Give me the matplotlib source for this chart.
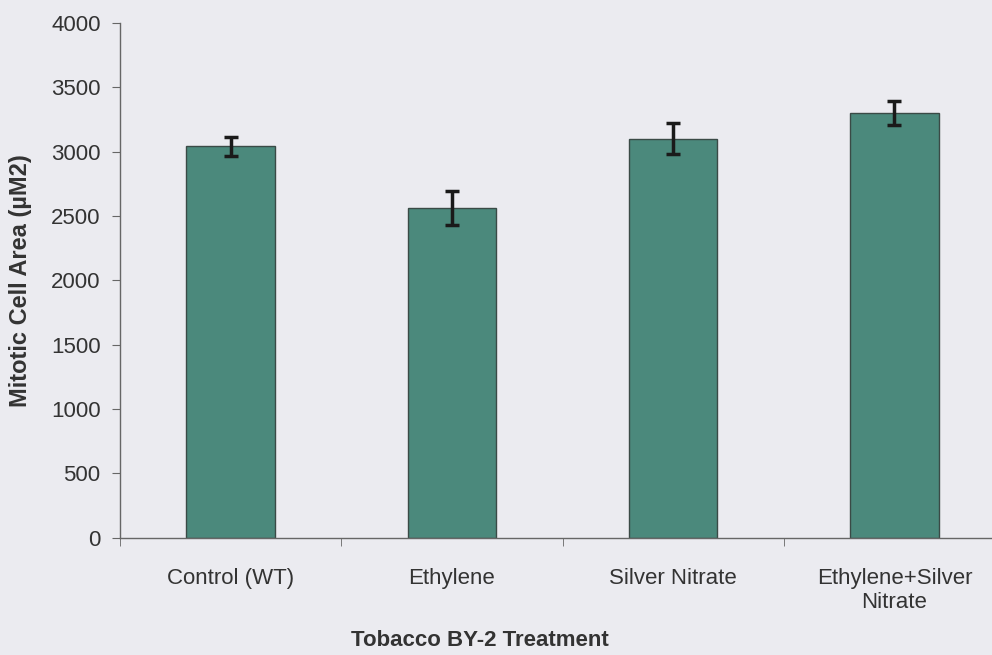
import matplotlib.pyplot as plt
import numpy as np

treatments = ['Control (WT)', 'Ethylene', 'Silver Nitrate', 'Ethylene+Silver\nNitrate']
cell_area = [3040, 2560, 3100, 3300]
cell_area_err = [75, 130, 120, 90]
y_ticks = [0, 500, 1000, 1500, 2000, 2500, 3000, 3500, 4000]

plt.rcParams['font.family'] = ['Liberation Sans', 'DejaVu Sans']

bg = '#ebebf0'
fig = plt.figure(figsize=(9.92, 6.55), dpi=100, facecolor=bg)
ax = fig.add_axes([120 / 992, 1 - 537.5 / 655, 885 / 992, (537.5 - 23) / 655])
ax.set_facecolor(bg)

x = np.arange(len(treatments))
ax.bar(x, cell_area, width=0.4, color='#4b897c', edgecolor='#3a4a46', linewidth=1.0)
ax.errorbar(x, cell_area, yerr=cell_area_err, fmt='none', ecolor='#1a1a1a',
            elinewidth=2.5, capsize=5, capthick=2.5)

ax.set_xlim(-0.5, len(treatments) - 0.5)
ax.set_ylim(0, 4000)
ax.set_yticks(y_ticks)
ax.set_yticklabels([str(v) for v in y_ticks], fontsize=16, color='#333333')
ax.set_xticks(x)
ax.set_xticklabels(treatments, fontsize=16, color='#333333')
ax.set_xticks(np.arange(len(treatments) + 1) - 0.5, minor=True)
ax.tick_params(axis='x', which='major', length=0, pad=22)
ax.tick_params(axis='x', which='minor', length=6, direction='out', color='#666666')
ax.tick_params(axis='y', length=6, direction='out', color='#666666', pad=8)

for s in ['top', 'right']:
    ax.spines[s].set_visible(False)
for s in ['left', 'bottom']:
    ax.spines[s].set_color('#666666')
    ax.spines[s].set_linewidth(1.0)

fig.text(21 / 992, 1 - 281 / 655, 'Mitotic Cell Area (\u00b5M2)', fontsize=17, fontweight='bold',
         color='#333333', rotation=90, ha='center', va='center')
fig.text(480 / 992, 1 - 640 / 655, 'Tobacco BY-2 Treatment', fontsize=16, fontweight='bold',
         color='#333333', ha='center', va='center')

fig.savefig('out.png', dpi=100, facecolor=bg)
